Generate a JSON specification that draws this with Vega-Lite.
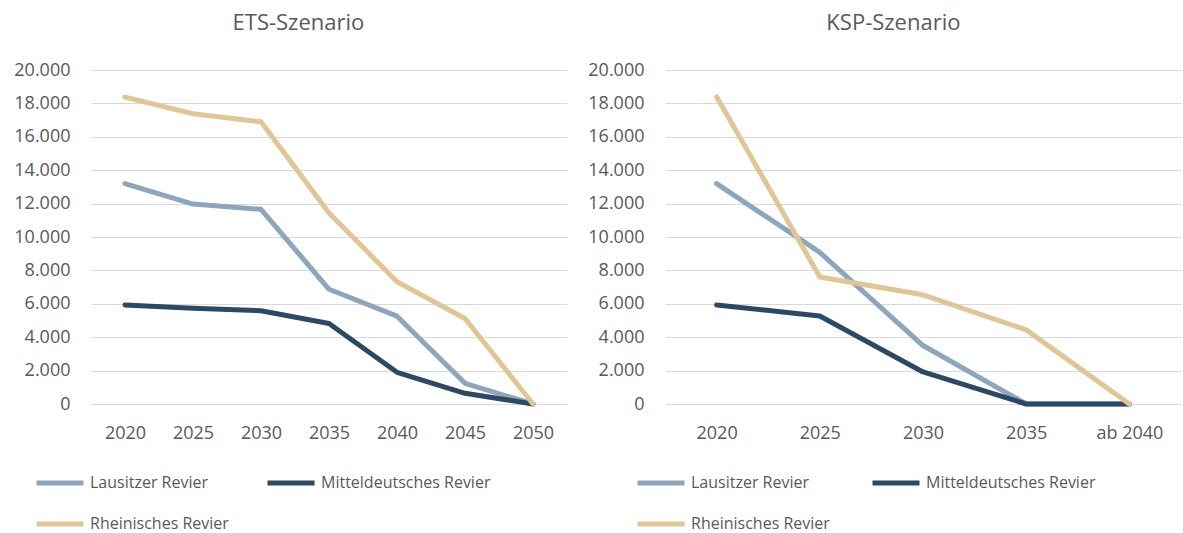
{
  "$schema": "https://vega.github.io/schema/vega-lite/v6.json",
  "background": "white",
  "padding": {"left": 13, "top": 12, "right": 0, "bottom": 0},
  "datasets": {
    "ets": [
      {"jahr": "2020", "revier": "Lausitzer Revier", "wert": 13200},
      {"jahr": "2025", "revier": "Lausitzer Revier", "wert": 11970},
      {"jahr": "2030", "revier": "Lausitzer Revier", "wert": 11660},
      {"jahr": "2035", "revier": "Lausitzer Revier", "wert": 6870},
      {"jahr": "2040", "revier": "Lausitzer Revier", "wert": 5260},
      {"jahr": "2045", "revier": "Lausitzer Revier", "wert": 1240},
      {"jahr": "2050", "revier": "Lausitzer Revier", "wert": 0},
      {"jahr": "2020", "revier": "Mitteldeutsches Revier", "wert": 5930},
      {"jahr": "2025", "revier": "Mitteldeutsches Revier", "wert": 5740},
      {"jahr": "2030", "revier": "Mitteldeutsches Revier", "wert": 5580},
      {"jahr": "2035", "revier": "Mitteldeutsches Revier", "wert": 4820},
      {"jahr": "2040", "revier": "Mitteldeutsches Revier", "wert": 1900},
      {"jahr": "2045", "revier": "Mitteldeutsches Revier", "wert": 640},
      {"jahr": "2050", "revier": "Mitteldeutsches Revier", "wert": 0},
      {"jahr": "2020", "revier": "Rheinisches Revier", "wert": 18380},
      {"jahr": "2025", "revier": "Rheinisches Revier", "wert": 17380},
      {"jahr": "2030", "revier": "Rheinisches Revier", "wert": 16900},
      {"jahr": "2035", "revier": "Rheinisches Revier", "wert": 11440},
      {"jahr": "2040", "revier": "Rheinisches Revier", "wert": 7320},
      {"jahr": "2045", "revier": "Rheinisches Revier", "wert": 5120},
      {"jahr": "2050", "revier": "Rheinisches Revier", "wert": 0}
    ],
    "ksp": [
      {"jahr": "2020", "revier": "Lausitzer Revier", "wert": 13200},
      {"jahr": "2025", "revier": "Lausitzer Revier", "wert": 9080},
      {"jahr": "2030", "revier": "Lausitzer Revier", "wert": 3500},
      {"jahr": "2035", "revier": "Lausitzer Revier", "wert": 0},
      {"jahr": "ab 2040", "revier": "Lausitzer Revier", "wert": 0},
      {"jahr": "2020", "revier": "Mitteldeutsches Revier", "wert": 5930},
      {"jahr": "2025", "revier": "Mitteldeutsches Revier", "wert": 5270},
      {"jahr": "2030", "revier": "Mitteldeutsches Revier", "wert": 1920},
      {"jahr": "2035", "revier": "Mitteldeutsches Revier", "wert": 0},
      {"jahr": "ab 2040", "revier": "Mitteldeutsches Revier", "wert": 0},
      {"jahr": "2020", "revier": "Rheinisches Revier", "wert": 18400},
      {"jahr": "2025", "revier": "Rheinisches Revier", "wert": 7600},
      {"jahr": "2030", "revier": "Rheinisches Revier", "wert": 6540},
      {"jahr": "2035", "revier": "Rheinisches Revier", "wert": 4440},
      {"jahr": "ab 2040", "revier": "Rheinisches Revier", "wert": 0}
    ]
  },
  "config": {
    "font": "Open Sans",
    "view": {"stroke": null},
    "axis": {
      "labelFont": "Open Sans",
      "labelFontSize": 18,
      "labelColor": "#595959",
      "ticks": false,
      "domain": false,
      "title": null,
      "gridColor": "#d9d9d9",
      "gridWidth": 1.2
    },
    "axisX": {"grid": false, "labelAngle": 0, "labelPadding": 20},
    "axisY": {"labelPadding": 21},
    "title": {"font": "Open Sans", "fontSize": 22, "fontWeight": "normal", "color": "#595959", "frame": "bounds", "offset": 26},
    "legend": {
      "orient": "none",
      "title": null,
      "direction": "horizontal",
      "columns": 2,
      "symbolType": "stroke",
      "symbolStrokeWidth": 5,
      "symbolSize": 2209,
      "labelFont": "Open Sans",
      "labelFontSize": 16,
      "labelColor": "#595959",
      "labelOffset": 4,
      "columnPadding": 28,
      "rowPadding": 5,
      "padding": 0,
      "labelLimit": 400
    }
  },
  "spacing": 20,
  "resolve": {"scale": {"color": "independent"}, "legend": {"color": "independent"}},
  "hconcat": [
    {
      "title": {"text": "ETS-Szenario", "dx": 8},
      "width": 476,
      "height": 334,
      "data": {"name": "ets"},
      "mark": {"type": "line", "strokeWidth": 5, "strokeCap": "round", "strokeJoin": "round"},
      "encoding": {
        "x": {"field": "jahr", "type": "ordinal", "scale": {"type": "point", "padding": 0.5}},
        "y": {"field": "wert", "type": "quantitative", "scale": {"domain": [0, 20000]},
              "axis": {"values": [0, 2000, 4000, 6000, 8000, 10000, 12000, 14000, 16000, 18000, 20000],
                       "labelExpr": "replace(format(datum.value, ',d'), ',', '.')"}},
        "color": {"field": "revier", "type": "nominal",
                  "scale": {"domain": ["Lausitzer Revier", "Mitteldeutsches Revier", "Rheinisches Revier"],
                            "range": ["#8EA6BC", "#2C4964", "#E1C695"]},
                  "legend": {"legendX": -57, "legendY": 387}}
      }
    },
    {
      "title": {"text": "KSP-Szenario", "dx": 9},
      "width": 516,
      "height": 334,
      "data": {"name": "ksp"},
      "mark": {"type": "line", "strokeWidth": 5, "strokeCap": "round", "strokeJoin": "round"},
      "encoding": {
        "x": {"field": "jahr", "type": "ordinal", "scale": {"type": "point", "padding": 0.5}},
        "y": {"field": "wert", "type": "quantitative", "scale": {"domain": [0, 20000]},
              "axis": {"values": [0, 2000, 4000, 6000, 8000, 10000, 12000, 14000, 16000, 18000, 20000],
                       "labelExpr": "replace(format(datum.value, ',d'), ',', '.')"}},
        "color": {"field": "revier", "type": "nominal",
                  "scale": {"domain": ["Lausitzer Revier", "Mitteldeutsches Revier", "Rheinisches Revier"],
                            "range": ["#8EA6BC", "#2C4964", "#E1C695"]},
                  "legend": {"legendX": -30, "legendY": 387, "columnPadding": 32}}
      }
    }
  ]
}
